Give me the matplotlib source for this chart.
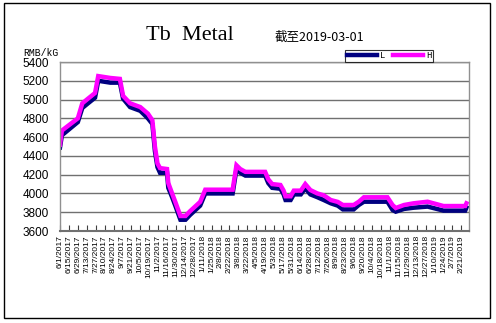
import pandas as pd
import matplotlib
matplotlib.use("Agg")
from matplotlib import pyplot as plt
from matplotlib import patches

# price points (RMB/kG)
dates = [
    "2017-06-01", "2017-06-04", "2017-06-29", "2017-07-06", "2017-07-15", "2017-07-26",
    "2017-07-31", "2017-08-19", "2017-09-03", "2017-09-08", "2017-09-19", "2017-10-05",
    "2017-10-17", "2017-10-24", "2017-10-28", "2017-11-01", "2017-11-05", "2017-11-16",
    "2017-11-18", "2017-11-24", "2017-11-29", "2017-12-07", "2017-12-15", "2017-12-22",
    "2017-12-30", "2018-01-07", "2018-01-15", "2018-02-27", "2018-03-05", "2018-03-11",
    "2018-03-19", "2018-04-19", "2018-04-24", "2018-04-30", "2018-05-13", "2018-05-18",
    "2018-05-21", "2018-05-29", "2018-06-03", "2018-06-14", "2018-06-21", "2018-06-29",
    "2018-07-10", "2018-07-20", "2018-07-31", "2018-08-11", "2018-08-19", "2018-09-05",
    "2018-09-13", "2018-09-21", "2018-10-28", "2018-11-05", "2018-11-10", "2018-11-23",
    "2018-12-08", "2018-12-30", "2019-01-24", "2019-02-27", "2019-03-01",
]
low = [
    4490, 4620, 4760, 4910, 4960, 5020,
    5200, 5180, 5180, 5010, 4920, 4880,
    4800, 4740, 4450, 4280, 4220, 4220,
    4060, 3960, 3870, 3720, 3720, 3770,
    3820, 3870, 4000, 4000, 4260, 4220,
    4190, 4190, 4110, 4060, 4050, 3990,
    3930, 3930, 3990, 3990, 4055, 3990,
    3960, 3930, 3895, 3870, 3830, 3830,
    3877, 3912, 3912, 3824, 3806, 3835,
    3848, 3860, 3817, 3817, 3850,
]
high = [
    4520, 4670, 4800, 4960, 5010, 5070,
    5250, 5230, 5220, 5040, 4960, 4920,
    4850, 4780, 4500, 4320, 4270, 4260,
    4110, 4000, 3910, 3760, 3760, 3810,
    3860, 3910, 4040, 4040, 4300, 4260,
    4230, 4230, 4150, 4100, 4090, 4030,
    3970, 3970, 4030, 4030, 4100, 4036,
    4000, 3980, 3930, 3910, 3877, 3877,
    3912, 3959, 3959, 3877, 3845, 3877,
    3895, 3912, 3866, 3866, 3895,
]
tick_dates = pd.date_range("2017-06-01", "2019-02-21", freq="14D")

x = pd.to_datetime(dates)

fig = plt.figure(figsize=(4.96, 3.23), dpi=100)
ax = fig.add_axes([60 / 496, 1 - 231 / 323, 409 / 496, 169 / 323])

ax.plot(x, low, color="#000080", lw=3.2, label="L", solid_joinstyle="miter")
ax.plot(x, high, color="#ff00ff", lw=3.2, label="H", solid_joinstyle="miter")

ax.set_ylim(3600, 5400)
ax.set_yticks(range(3600, 5401, 200))
ax.set_xlim(pd.Timestamp("2017-06-01"), pd.Timestamp("2019-03-05"))
ax.set_xticks(tick_dates)
ax.set_xticklabels([f"{d.month}/{d.day}/{d.year}" for d in tick_dates],
                   rotation=90, fontsize=6, family="Liberation Sans")
ax.tick_params(axis="x", direction="in", length=4, width=0.8, color="#404040", pad=3)
ax.tick_params(axis="y", length=0, labelsize=8.5, pad=8)
for lab in ax.get_yticklabels():
    lab.set_family("Liberation Sans")

ax.grid(axis="y", color="#707070", lw=1)
ax.set_axisbelow(True)
for s in ax.spines.values():
    s.set_color("#909090")
    s.set_linewidth(1)
ax.spines["bottom"].set_color("#707070")
ax.spines["bottom"].set_linewidth(1.5)

fig.text(190 / 496, 1 - 35 / 323, "Tb  Metal", family="Liberation Serif",
         fontsize=16, ha="center", va="center")
fig.text(275 / 496, 1 - 37 / 323, "截至2019-03-01",
         family=["Noto Sans CJK SC", "DejaVu Sans"], fontsize=9, ha="left", va="center")
fig.text(23 / 496, 1 - 53 / 323, "RMB/kG", family=["Liberation Mono", "DejaVu Sans Mono"],
         fontsize=7, ha="left", va="center")

leg = ax.legend(loc="center", bbox_to_anchor=(389 / 496, 1 - 56 / 323),
                bbox_transform=fig.transFigure, ncol=2,
                frameon=True, fancybox=False, handlelength=3.4, handletextpad=0.3,
                columnspacing=0.8, borderpad=0.15, borderaxespad=0,
                prop={"family": ["Liberation Mono", "DejaVu Sans Mono"], "size": 6.5})
leg.get_frame().set_edgecolor("black")
leg.get_frame().set_linewidth(0.8)

fig.patches.append(patches.Rectangle((4 / 496, 5 / 323), 486 / 496, 315 / 323,
                                     transform=fig.transFigure, fill=False,
                                     edgecolor="black", lw=1))

fig.savefig("out.png", dpi=100)
